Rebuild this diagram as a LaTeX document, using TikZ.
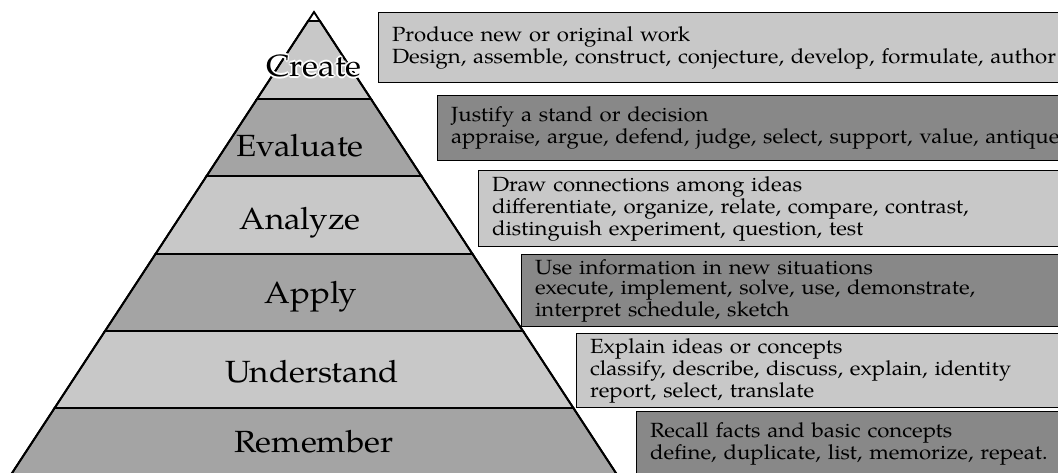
\documentclass[tikz,border=0pt]{standalone}
\usepackage{fontspec}
\setmainfont{TeX Gyre Pagella}[FakeStretch=1.08]
\definecolor{lightg}{RGB}{200,200,200}
\definecolor{midg}{RGB}{164,164,164}
\definecolor{darkg}{RGB}{136,136,136}
\begin{document}
\begin{tikzpicture}[x=0.75pt,y=-0.75pt,
  layerlight/.style={fill=lightg,draw=black,line width=1.4pt,line join=miter},
  layermid/.style={fill=midg,draw=black,line width=1.4pt,line join=miter},
  lbl/.style={font=\fontsize{23}{25}\selectfont,inner sep=0pt},
  infobox/.style={draw=black,line width=1.1pt,anchor=north west,align=left,
    inner xsep=10pt,inner ysep=0pt,font=\fontsize{15.4}{15.2}\selectfont},
  lightbox/.style={infobox,fill=lightg},
  darkbox/.style={infobox,fill=darkg}]
\useasboundingbox (0,0) rectangle (1058,473);
\fill[white] (0,0) rectangle (1058,473);
% pyramid layers
\path[layerlight] (308.1,21) -- (319.9,21) -- (371,99) -- (257,99) -- cycle;
\path[layermid] (257,99) -- (371,99) -- (421.4,176) -- (206.6,176) -- cycle;
\path[layerlight] (206.6,176) -- (421.4,176) -- (472.5,254) -- (155.5,254) -- cycle;
\path[layermid] (155.5,254) -- (472.5,254) -- (523,331) -- (105,331) -- cycle;
\path[layerlight] (105,331) -- (523,331) -- (573.4,408) -- (54.6,408) -- cycle;
\path[layermid] (54.6,408) -- (573.4,408) -- (620.5,480) -- (7.5,480) -- cycle;
\draw[line width=1.4pt,line join=miter] (7.5,480) -- (314,12) -- (620.5,480);
% labels
\foreach \dx/\dy in {1.2/0,-1.2/0,0/1.2,0/-1.2,0.85/0.85,-0.85/0.85,0.85/-0.85,-0.85/-0.85}
  \node[lbl,text=white,xshift=\dx pt,yshift=\dy pt] at (314,66) {Create};
\node[lbl] (create) at (314,66) {Create};
\node[lbl] (evaluate) at (300,146) {Evaluate};
\node[lbl] (analyze) at (300,223) {Analyze};
\node[lbl] (apply) at (311,297) {Apply};
\node[lbl] (understand) at (312,372) {Understand};
\node[lbl] (remember) at (314,442) {Remember};
% boxes
\node[lightbox,minimum height=52.5pt,text width=521.5pt] (bcreate) at (378,12)
  {Produce new or original work\\Design, assemble, construct, conjecture, develop, formulate, author};
\node[darkbox,minimum height=48.75pt,text width=477.25pt] (bevaluate) at (437,95)
  {Justify a stand or decision\\appraise, argue, defend, judge, select, support, value, antique};
\node[lightbox,minimum height=57pt,text width=446.5pt] (banalyze) at (478,170)
  {Draw connections among ideas\\differentiate, organize, relate, compare, contrast,\\distinguish experiment, question, test};
\node[darkbox,minimum height=54pt,text width=414.25pt] (bapply) at (521,254)
  {Use information in new situations\\execute, implement, solve, use, demonstrate,\\interpret schedule, sketch};
\node[lightbox,minimum height=55.5pt,text width=373pt] (bunderstand) at (576,333)
  {Explain ideas or concepts\\classify, describe, discuss, explain, identity\\report, select, translate};
\node[darkbox,minimum height=48pt,text width=328pt] (bremember) at (636,411)
  {Recall facts and basic concepts\\define, duplicate, list, memorize, repeat.};
\end{tikzpicture}
\end{document}
